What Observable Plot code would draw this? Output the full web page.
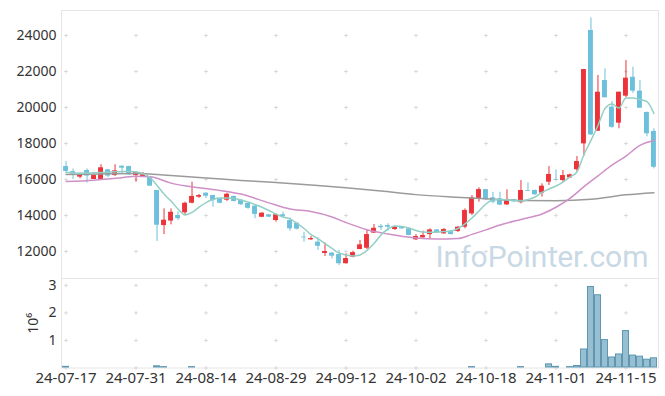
<!DOCTYPE html>
<html><head><meta charset="utf-8">
<script src="https://cdn.jsdelivr.net/npm/d3@7"></script>
<script src="https://cdn.jsdelivr.net/npm/@observablehq/plot@0.6"></script>
<style>
body{margin:0;background:#fff;}
#chart svg{display:block;overflow:visible;}
</style></head><body><div id="chart"></div>
<script>
const dates = [
"24-07-17","24-07-18","24-07-19","24-07-22","24-07-23","24-07-24","24-07-25","24-07-26","24-07-29","24-07-30","24-07-31",
"24-08-01","24-08-02","24-08-05","24-08-06","24-08-07","24-08-08","24-08-09","24-08-12","24-08-13","24-08-14",
"24-08-16","24-08-19","24-08-20","24-08-21","24-08-22","24-08-23","24-08-26","24-08-27","24-08-28","24-08-29",
"24-08-30","24-09-02","24-09-03","24-09-04","24-09-05","24-09-06","24-09-09","24-09-10","24-09-11","24-09-12",
"24-09-13","24-09-19","24-09-20","24-09-23","24-09-24","24-09-25","24-09-26","24-09-27","24-09-30","24-10-02",
"24-10-04","24-10-07","24-10-08","24-10-10","24-10-11","24-10-14","24-10-15","24-10-16","24-10-17","24-10-18",
"24-10-21","24-10-22","24-10-23","24-10-24","24-10-25","24-10-28","24-10-29","24-10-30","24-10-31","24-11-01",
"24-11-04","24-11-05","24-11-06","24-11-07","24-11-08","24-11-11","24-11-12","24-11-13","24-11-14","24-11-15",
"24-11-18","24-11-19","24-11-20","24-11-21"];

const open = [
16720,16440,16130,16500,16000,15960,16540,16220,16740,16720,
16220,16130,16110,15390,13440,13690,14000,14150,14680,15020,
15240,15110,14930,14850,15060,14850,14670,14520,13900,14040,
13720,14040,13720,13570,12800,12650,12520,11890,11910,11830,
11320,11680,12110,12180,13020,13400,13440,13220,13350,13260,
12650,12760,12940,13200,12980,13130,13110,13350,14090,14930,
15440,14980,14930,14590,14870,14710,15390,15390,15240,15850,
16000,15940,16090,16540,17980,24280,18680,21500,20020,19130,
20630,21680,20910,19720,18670];
const high = [
17000,16580,16350,16590,16320,16820,16560,16820,16760,16740,
16400,16390,16170,15390,14370,14370,14200,14740,15850,15170,
15260,15130,14950,15240,15080,14870,14700,14550,14150,14060,
14080,14190,13870,13600,13070,12830,12760,12480,11960,12060,
11870,12020,12610,13170,13500,13500,13540,13420,13380,13280,
12940,13130,13260,13220,13280,13150,13400,14370,15110,15540,
15450,15290,15290,15430,14900,15940,15820,15420,15760,16720,
16540,16500,16300,17280,22120,24980,21780,22150,20330,20860,
22610,22240,21500,19750,18820];
const low = [
16350,16000,16040,15800,16000,15960,16100,16170,16330,16230,
15850,16130,15630,12560,12940,13480,13720,14000,14650,14950,
14940,14460,14650,14780,14750,14550,14350,13820,13880,13880,
13630,13870,13130,13200,12520,12610,12060,11720,11590,11220,
11300,11650,12100,12110,13000,13170,13130,13170,13240,12870,
12610,12740,12700,13000,12960,12920,13060,13260,14000,14740,
14830,14650,14540,14560,14720,14650,15340,15120,15020,15670,
15940,15850,16060,16440,17300,18440,18680,20540,18850,18820,
20540,20790,19960,18370,16590];
const close = [
16450,16300,16280,16190,16220,16650,16190,16480,16630,16260,
16390,16260,15630,13460,13740,14180,13820,14680,15060,15110,
15070,14830,14680,15180,14780,14600,14400,14060,14130,13910,
14040,13940,13260,13240,12760,12720,12290,12000,11740,11320,
11610,11940,12370,12940,13290,13320,13350,13350,13260,12890,
12830,12890,13200,13020,13220,12940,13350,14280,14980,15440,
14870,14740,14580,14890,14760,15390,15350,15150,15630,16280,
15970,16220,16260,17000,22110,18480,20850,20540,18900,20850,
21630,20910,19960,18540,16680];
const volume = [
60000,30000,0,0,0,30000,0,30000,30000,0,
30000,0,30000,80000,50000,30000,0,30000,50000,0,
0,30000,0,0,0,0,0,0,0,0,
0,0,30000,0,30000,0,30000,30000,30000,30000,
0,0,0,30000,30000,0,0,0,0,0,
0,0,0,0,0,0,0,30000,50000,30000,
30000,0,0,0,0,50000,0,0,30000,150000,
60000,20000,50000,90000,690000,2960000,2660000,1030000,400000,510000,
1360000,470000,430000,320000,370000];

const ma5 = [
16390,16370,16350,16360,16370,16390,16410,16430,16440,16460,
16420,16330,16110,15670,15190,14800,14360,14030,14170,14470,
14720,14890,14970,14970,14940,14860,14750,14610,14460,14280,
14080,13920,13810,13560,13280,12940,12720,12440,12170,11920,
11810,11750,11810,12060,12440,12920,13250,13420,13390,13310,
13170,13080,13070,13080,13110,13140,13280,13530,13860,14250,
14640,14860,14890,14870,14830,14800,14890,15030,15280,15470,
15640,15860,16140,16420,17390,18170,19000,19940,20200,19970,
20530,20530,20440,20330,19670];
const ma20Days = [0,4,8,10,12,15,19,22,25,29,32,35,38,40,43,46,50,53,56,58,60,62,65,68,70,72,74,76,78,80,82,84];
const ma20 = [15890,15960,16100,16180,16150,15800,15540,15390,15190,14700,14360,14220,13920,13610,13210,12970,12750,12690,12720,12950,13200,13470,13780,14080,14460,14950,15600,16200,16800,17300,17900,18170];
const ma120Days = [0,5,10,15,20,25,30,35,40,45,50,55,60,65,70,75,80,84];
const ma120 = [16280,16310,16330,16220,16090,15950,15830,15690,15540,15360,15160,15030,14930,14830,14820,14900,15150,15270];

const priceTicks = [12000,14000,16000,18000,20000,22000,24000];
const volumeTicks = [1000000,2000000,3000000];
const dateTickIdx = [0,10,20,30,40,50,60,70,80];

const RED = "#ec3339", BLUE = "#6cc0dc";
const candles = dates.map((d,i)=>({date:d, open:open[i], high:high[i], low:low[i], close:close[i], volume:volume[i],
  color: close[i] >= open[i] ? RED : BLUE}));
const tickDates = dateTickIdx.map(i => dates[i]);
const ma5Data = dates.map((d,i)=>({date:d, v:ma5[i]}));
const ma20Data = ma20Days.map((d,i)=>({date:dates[d], v:ma20[i]}));
const ma120Data = ma120Days.map((d,i)=>({date:dates[d], v:ma120[i]}));
const priceGrid = tickDates.flatMap(d => priceTicks.map(v => ({date:d, v})));
const volGrid = tickDates.flatMap(d => [0, ...volumeTicks].map(v => ({date:d, v})));

const FONT = "'Noto Sans', sans-serif";

const price = Plot.plot({
  width: 665, height: 278,
  marginLeft: 61, marginRight: 7, marginTop: 10, marginBottom: 0,
  style: {fontFamily: FONT, fontSize: "14px", color: "#333", background: "#fff", overflow: "visible"},
  color: {type: "identity"},
  x: {type: "band", domain: dates, padding: 0.3, axis: null},
  y: {domain: [10500, 25390], ticks: priceTicks, tickFormat: d => String(d), tickSize: 0, tickPadding: 5, label: null},
  marks: [
    Plot.frame({stroke: "#e6e6e6"}),
    Plot.dot(priceGrid, {x: "date", y: "v", symbol: "plus", r: 1.3, stroke: "#d9d9d9", strokeWidth: 1}),
    Plot.text(["InfoPointer.com"], {frameAnchor: "bottom-right", dx: -10, dy: -12, fontSize: 30, fontFamily: "Roboto, sans-serif", fill: "#c8d9e5", lineAnchor: "bottom", textAnchor: "end"}),
    Plot.ruleX(candles, {x: "date", y1: "low", y2: "high", stroke: "color", strokeWidth: 1}),
    Plot.barY(candles, {x: "date", y1: "open", y2: "close", fill: "color"}),
    Plot.line(ma120Data, {x: "date", y: "v", stroke: "#9b9b9b", strokeWidth: 1.5, curve: "monotone-x"}),
    Plot.line(ma20Data, {x: "date", y: "v", stroke: "#cf8fc7", strokeWidth: 1.5, curve: "monotone-x"}),
    Plot.line(ma5Data, {x: "date", y: "v", stroke: "#92cfc5", strokeWidth: 1.5, curve: "monotone-x"})
  ]
});

const vol = Plot.plot({
  width: 665, height: 118,
  marginLeft: 61, marginRight: 7, marginTop: 0, marginBottom: 28.5,
  style: {fontFamily: FONT, fontSize: "14px", color: "#333", background: "#fff", overflow: "visible"},
  x: {type: "band", domain: dates, padding: 0, ticks: tickDates, tickSize: 0, tickPadding: 4, label: null},
  y: {domain: [0, 3250000], ticks: volumeTicks, tickFormat: d => String(d / 1000000), tickSize: 0, tickPadding: 5, label: null},
  marks: [
    Plot.frame({stroke: "#e6e6e6"}),
    Plot.dot(volGrid, {x: "date", y: "v", symbol: "plus", r: 1.3, stroke: "#d9d9d9", strokeWidth: 1}),
    Plot.barY(candles, {x: "date", y: "volume", fill: "#98bfd1", stroke: "#5e97b2", strokeWidth: 1, inset: 0.5}),
    Plot.text(["10⁶"], {frameAnchor: "left", dx: -28, rotate: -90, textAnchor: "middle", fontSize: 14, fill: "#333"})
  ]
});

const root = document.getElementById("chart");
root.appendChild(price);
root.appendChild(vol);
d3.select(vol).selectAll("text").filter(function(){ return /^24-/.test(this.textContent); })
  .style("font-size", "15px");
</script>
</body></html>
